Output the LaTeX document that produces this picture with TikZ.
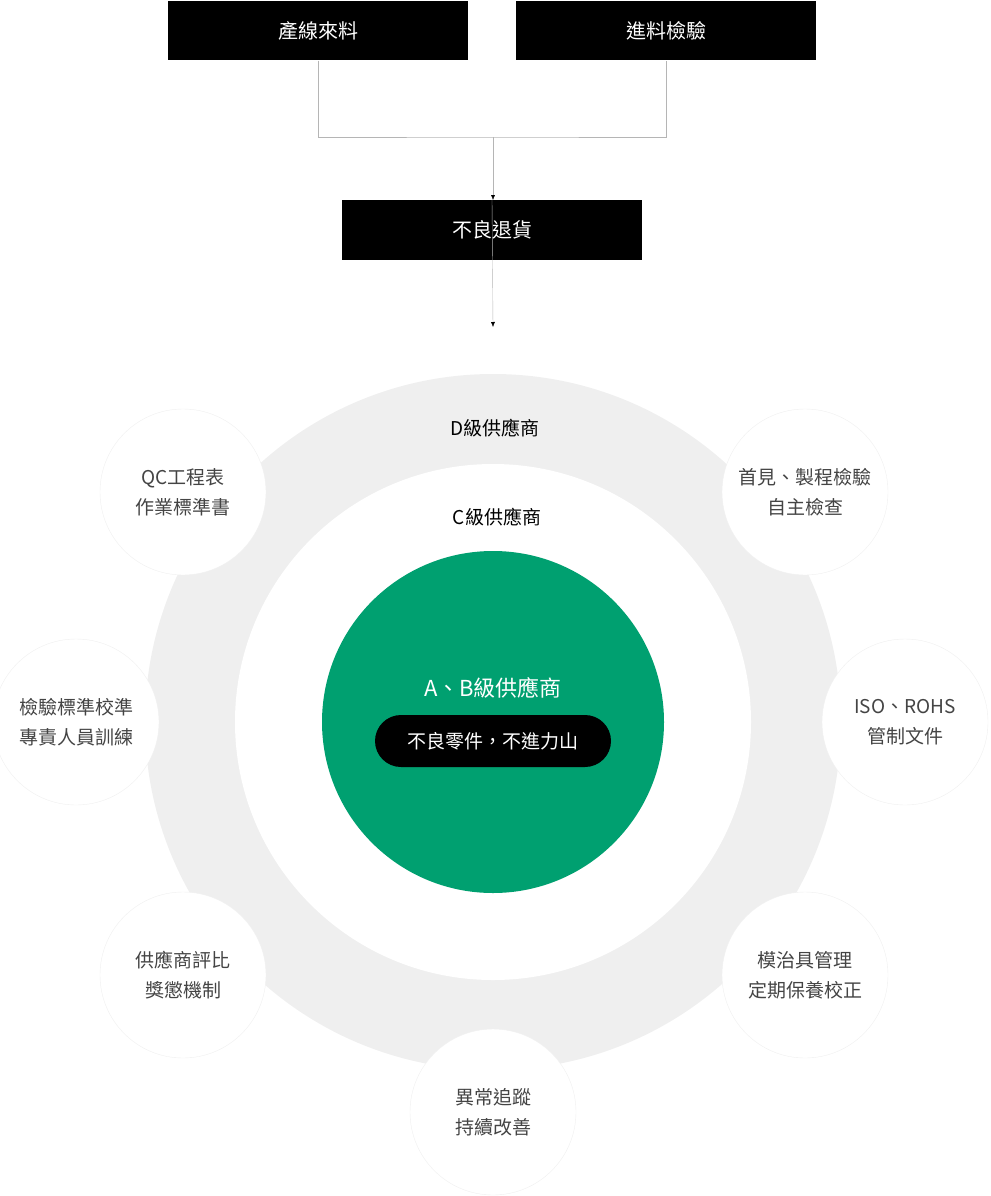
\documentclass[tikz,border=0pt]{standalone}
\usepackage{fontspec}
\setmainfont{Noto Sans CJK TC}
\usetikzlibrary{arrows.meta}
\definecolor{ringgray}{HTML}{EFEFEF}
\definecolor{linegray}{HTML}{B5B5B5}
\definecolor{grn}{HTML}{00A070}
\definecolor{txt}{HTML}{444444}
\tikzset{
  topbox/.style={fill=black, text=white, minimum width=300pt, minimum height=59pt, font=\fontsize{20}{24}\selectfont},
  bubble/.style={circle, fill=white, draw=black!6, minimum size=166pt, align=center, text=txt, font=\fontsize{19}{30}\selectfont},
  lvl/.style={text=black, font=\fontsize{19}{22}\selectfont}
}
\begin{document}
\begin{tikzpicture}[x=1pt,y=-1pt]
    \useasboundingbox (0,0) rectangle (990,1196);

    \node[topbox] (feed) at (318,31) {產線來料};
    \node[topbox] (check) at (666,31) {進料檢驗};
    \coordinate (mid) at (493,137);
    \coordinate (down) at (493,327);

    \draw[linegray] (feed.south) |- (mid) -| (check.south);
    \draw[linegray, -{Latex[length=5pt,width=4pt,black]}] (mid) -- (493,200);
    \node[topbox, minimum height=60pt] (reject) at (492,230) {不良退貨};
    \draw[linegray, -{Latex[length=5pt,width=4pt,black]}] (reject.north) -- (down);

    % rings
    \fill[ringgray] (493,722) circle (348);
    \fill[white] (493,722) circle (258);
    \node[circle, fill=grn, minimum size=342pt] (core) at (493,722) {};

    \node[lvl] (d) at (495,428) {D級供應商};
    \node[lvl] (c) at (497,517) {C級供應商};
    \node[text=white, font=\fontsize{22}{26}\selectfont] (ab) at (493,688) {A、B級供應商};
    \node[fill=black, text=white, rounded corners=26pt, minimum width=236pt, minimum height=52pt, font=\fontsize{19}{22}\selectfont] (pill) at (493,741) {不良零件，不進力山};

    % bubbles
    \node[bubble] (b1) at (183,492) {QC工程表\\作業標準書};
    \node[bubble] (b2) at (805,492) {首見、製程檢驗\\自主檢查};
    \node[bubble] (b3) at (76,722) {檢驗標準校準\\專責人員訓練};
    \node[bubble] (b4) at (905,722) {ISO、ROHS\\管制文件};
    \node[bubble] (b5) at (183,975) {供應商評比\\獎懲機制};
    \node[bubble] (b6) at (805,975) {模治具管理\\定期保養校正};
    \node[bubble] (b7) at (493,1112) {異常追蹤\\持續改善};
\end{tikzpicture}
\end{document}
